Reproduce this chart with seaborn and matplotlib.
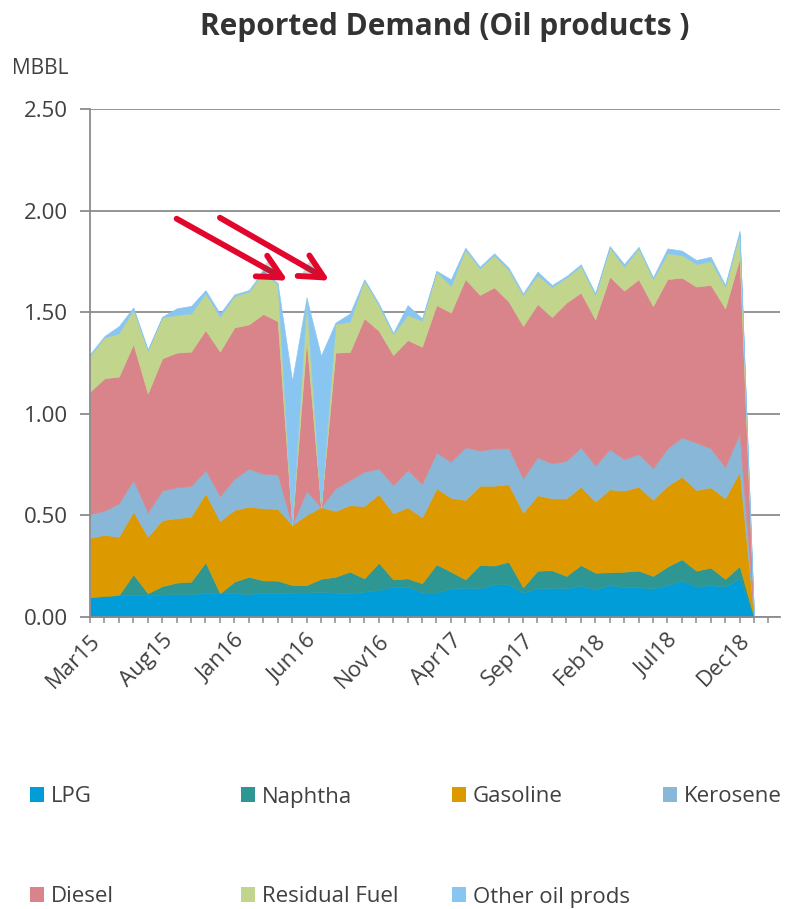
import numpy as np
import matplotlib
matplotlib.use('Agg')
import matplotlib.pyplot as plt
from matplotlib.patches import Patch
import matplotlib.patheffects as pe
import seaborn as sns

# Monthly reported demand, Mar15 .. Jan19 (MBBL)
lpg = [0.097, 0.103, 0.108, 0.108, 0.110, 0.110, 0.112, 0.112, 0.120, 0.117,
       0.117, 0.113, 0.120, 0.117, 0.120, 0.120, 0.123, 0.120, 0.116, 0.125,
       0.133, 0.149, 0.149, 0.121, 0.120, 0.141, 0.144, 0.141, 0.161, 0.161,
       0.120, 0.141, 0.144, 0.141, 0.154, 0.136, 0.157, 0.146, 0.146, 0.141,
       0.157, 0.179, 0.149, 0.157, 0.149, 0.190, 0.0]
naphtha = [0.0, 0.0, 0.0, 0.102, 0.007, 0.042, 0.057, 0.062, 0.149, 0.0,
           0.057, 0.085, 0.060, 0.062, 0.037, 0.037, 0.065, 0.078, 0.107, 0.065,
           0.134, 0.036, 0.041, 0.045, 0.139, 0.082, 0.041, 0.115, 0.092, 0.111,
           0.026, 0.087, 0.086, 0.061, 0.102, 0.082, 0.063, 0.077, 0.082, 0.061,
           0.091, 0.105, 0.079, 0.086, 0.038, 0.061, 0.0]
gasoline = [0.293, 0.301, 0.287, 0.308, 0.278, 0.325, 0.317, 0.320, 0.340, 0.355,
            0.353, 0.345, 0.355, 0.353, 0.296, 0.345, 0.353, 0.324, 0.327, 0.356,
            0.338, 0.325, 0.350, 0.324, 0.374, 0.364, 0.391, 0.390, 0.393, 0.381,
            0.367, 0.371, 0.354, 0.382, 0.385, 0.350, 0.408, 0.399, 0.413, 0.374,
            0.397, 0.407, 0.397, 0.395, 0.397, 0.464, 0.0]
kerosene = [0.117, 0.119, 0.164, 0.156, 0.120, 0.145, 0.152, 0.151, 0.114, 0.123,
            0.154, 0.187, 0.169, 0.169, 0.0, 0.118, 0.0, 0.111, 0.124, 0.169,
            0.125, 0.140, 0.183, 0.165, 0.177, 0.177, 0.259, 0.173, 0.184, 0.177,
            0.169, 0.187, 0.172, 0.184, 0.194, 0.177, 0.197, 0.154, 0.161, 0.156,
            0.185, 0.192, 0.233, 0.192, 0.153, 0.189, 0.0]
diesel = [0.602, 0.652, 0.624, 0.669, 0.585, 0.651, 0.663, 0.661, 0.689, 0.711,
          0.744, 0.710, 0.787, 0.755, 0.0, 0.743, 0.0, 0.668, 0.630, 0.755,
          0.679, 0.639, 0.640, 0.675, 0.725, 0.734, 0.828, 0.766, 0.792, 0.722,
          0.750, 0.754, 0.720, 0.779, 0.761, 0.720, 0.850, 0.830, 0.860, 0.798,
          0.833, 0.787, 0.768, 0.804, 0.782, 0.861, 0.0]
residual = [0.177, 0.200, 0.213, 0.171, 0.211, 0.202, 0.185, 0.188, 0.181, 0.172,
            0.155, 0.161, 0.206, 0.180, 0.0, 0.190, 0.0, 0.141, 0.149, 0.188,
            0.126, 0.104, 0.123, 0.128, 0.165, 0.131, 0.146, 0.131, 0.159, 0.156,
            0.153, 0.143, 0.148, 0.123, 0.131, 0.120, 0.143, 0.118, 0.152, 0.133,
            0.127, 0.111, 0.111, 0.118, 0.107, 0.123, 0.0]
other = [0.008, 0.008, 0.036, 0.010, 0.006, 0.003, 0.033, 0.037, 0.016, 0.016,
         0.008, 0.008, 0.008, 0.008, 0.710, 0.020, 0.745, 0.007, 0.041, 0.004,
         0.009, 0.006, 0.049, 0.012, 0.004, 0.033, 0.009, 0.008, 0.009, 0.011,
         0.008, 0.017, 0.010, 0.008, 0.009, 0.008, 0.008, 0.013, 0.008, 0.009,
         0.024, 0.022, 0.020, 0.021, 0.008, 0.013, 0.0]

series_names = ['LPG', 'Naphtha', 'Gasoline', 'Kerosene', 'Diesel',
                'Residual Fuel', 'Other oil prods']
series_colors = ['#009dd9', '#2e9794', '#dd9a00', '#88b7d7', '#d9848a',
                 '#c2d58d', '#88c6f1']
tick_labels = ['Mar15', 'Aug15', 'Jan16', 'Jun16', 'Nov16',
               'Apr17', 'Sep17', 'Feb18', 'Jul18', 'Dec18']

# ------------------------------------
# --- Estilo
# ------------------------------------
sns.set_style('white')
plt.rcParams['font.family'] = ['Open Sans', 'DejaVu Sans']
text_color = '#404040'
grid_color = '#8c8c8c'

fig = plt.figure(figsize=(7.85, 9.09), dpi=100)
ax = fig.add_axes([90 / 785, 1 - 617 / 909, 690 / 785, 508 / 909])

x = np.arange(len(lpg))
ax.stackplot(x, lpg, naphtha, gasoline, kerosene, diesel, residual, other,
             colors=series_colors, linewidth=0.4,
             edgecolor='face', zorder=3)

# Eixos
ax.set_xlim(0, 47.8)
ax.set_ylim(0, 2.5)
ax.set_yticks(np.arange(0, 2.51, 0.5))
ax.set_yticklabels(['{:.2f}'.format(v) for v in np.arange(0, 2.51, 0.5)])
ax.set_xticks(np.arange(0, 48))
labels = [''] * 48
for k, lab in enumerate(tick_labels):
    labels[k * 5] = lab
ax.set_xticklabels(labels, rotation=45, ha='right', rotation_mode='anchor')

ax.grid(axis='y', color=grid_color, linewidth=1.3, zorder=0)
ax.grid(axis='x', visible=False)
sns.despine(ax=ax, top=True, right=True)
for side in ['left', 'bottom']:
    ax.spines[side].set_color(grid_color)
    ax.spines[side].set_linewidth(1.3)
    ax.spines[side].set_zorder(4)

ax.tick_params(axis='y', length=7, width=1.3, color=grid_color, pad=9,
               labelsize=16, labelcolor=text_color, left=True)
ax.tick_params(axis='x', length=4.5, width=1.1, color=grid_color, pad=5,
               labelsize=16, labelcolor=text_color, bottom=True)

# Titulo e unidade
fig.text(445 / 785, 1 - 27 / 909, 'Reported Demand (Oil products )',
         ha='center', va='center', fontsize=21.5, fontweight='bold',
         color='#333333')
fig.text(12 / 785, 1 - 68 / 909, 'MBBL', ha='left', va='center',
         fontsize=15, color=text_color)

# Setas
arrow_props = dict(arrowstyle='->,head_length=1.7,head_width=0.85',
                   lw=4.2, color='#e2062c', shrinkA=0, shrinkB=0,
                   path_effects=[pe.SimplePatchShadow(offset=(1.5, -1.5), alpha=0.25),
                                 pe.Normal()])
ax.annotate('', xy=(13.7, 1.655), xytext=(6.0, 1.96),
            arrowprops=arrow_props, zorder=6)
ax.annotate('', xy=(16.6, 1.655), xytext=(9.0, 1.965),
            arrowprops=arrow_props, zorder=6)

# Legenda (4 colunas, 2 linhas)
legend_pos = [(30, 797), (241, 797), (452, 797), (663, 797),
              (30, 897), (241, 897), (452, 897)]
for name, color, (px, py) in zip(series_names, series_colors, legend_pos):
    fig.legend(handles=[Patch(facecolor=color, edgecolor='none', label=name)],
               loc='center left', bbox_to_anchor=(px / 785, 1 - py / 909),
               frameon=False, fontsize=16, handlelength=0.65, handleheight=0.65,
               handletextpad=0.3, borderpad=0, borderaxespad=0,
               labelcolor=text_color)

fig.savefig('out.png', dpi=100)
